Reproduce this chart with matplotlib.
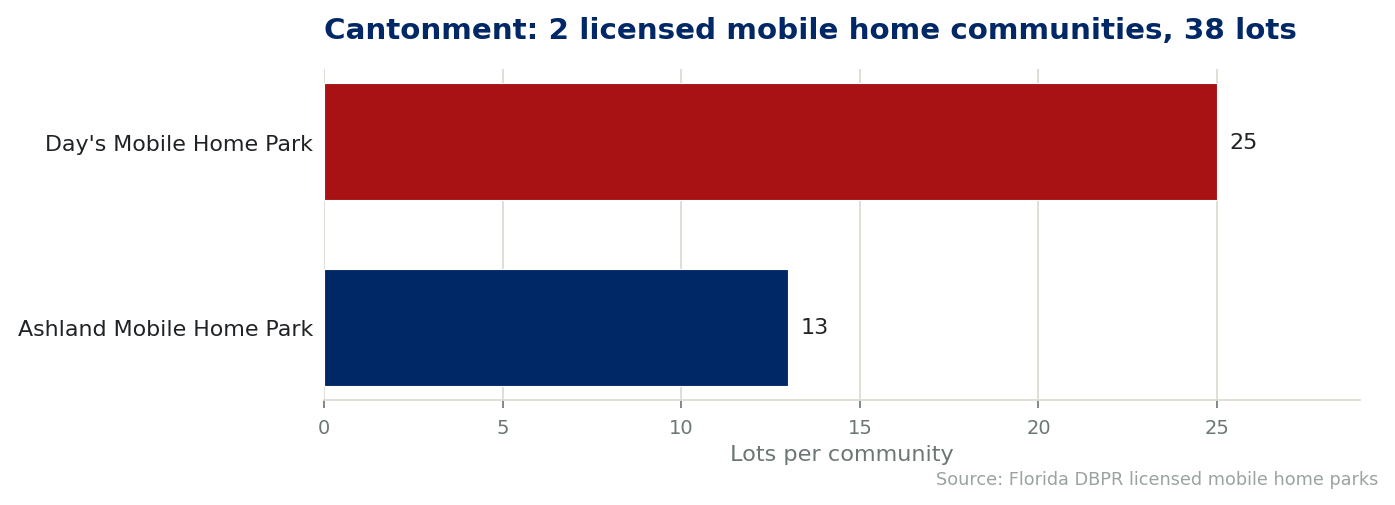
import matplotlib
matplotlib.use('Agg')
import matplotlib.pyplot as plt

# Data
parks = ["Ashland Mobile Home Park", "Day's Mobile Home Park"]
lots = [13, 25]
bar_colors = ['#012866', '#A81215']

title = 'Cantonment: 2 licensed mobile home communities, 38 lots'
xlabel = 'Lots per community'
source = 'Source: Florida DBPR licensed mobile home parks'

plt.rcParams['font.family'] = 'DejaVu Sans'
grid_col = '#dedbd3'
tick_col = '#6b7675'

fig = plt.figure(figsize=(13.95, 5.06), dpi=100)
ax = fig.add_axes([324/1395, 1 - 401/506, 1036/1395, 331/506])

ypos = list(range(len(parks)))
ax.barh(ypos, lots, height=0.63, color=bar_colors, edgecolor='white',
        linewidth=0.8, zorder=3)
for y, v in zip(ypos, lots):
    ax.text(v + 0.33, y, str(v), va='center', ha='left', fontsize=16,
            color='#1f2326')

ax.set_xlim(0, 29)
ax.set_ylim(-0.39, 1.39)
ax.set_yticks(ypos)
ax.set_yticklabels(parks, fontsize=15.9, color='#1f2326')
ax.set_xticks([0, 5, 10, 15, 20, 25])
ax.tick_params(axis='x', labelsize=14, colors=tick_col, length=6, width=1.2,
               pad=7)
ax.tick_params(axis='y', length=0, pad=8)
ax.grid(axis='x', color=grid_col, linewidth=1.3, zorder=0)
for s in ['top', 'right', 'left']:
    ax.spines[s].set_visible(False)
ax.spines['bottom'].set_color(grid_col)
ax.spines['bottom'].set_linewidth(1.3)

ax.set_xlabel(xlabel, fontsize=16.1, color=tick_col, labelpad=5)
ax.set_title(title, fontsize=21.2, fontweight='bold', color='#012866',
             loc='left', pad=22)
fig.text(1378/1395, 1 - 480/506, source, ha='right', va='center',
         fontsize=12.7, color='#9aa3a2')

plt.savefig('out.png', dpi=100)
plt.close()
